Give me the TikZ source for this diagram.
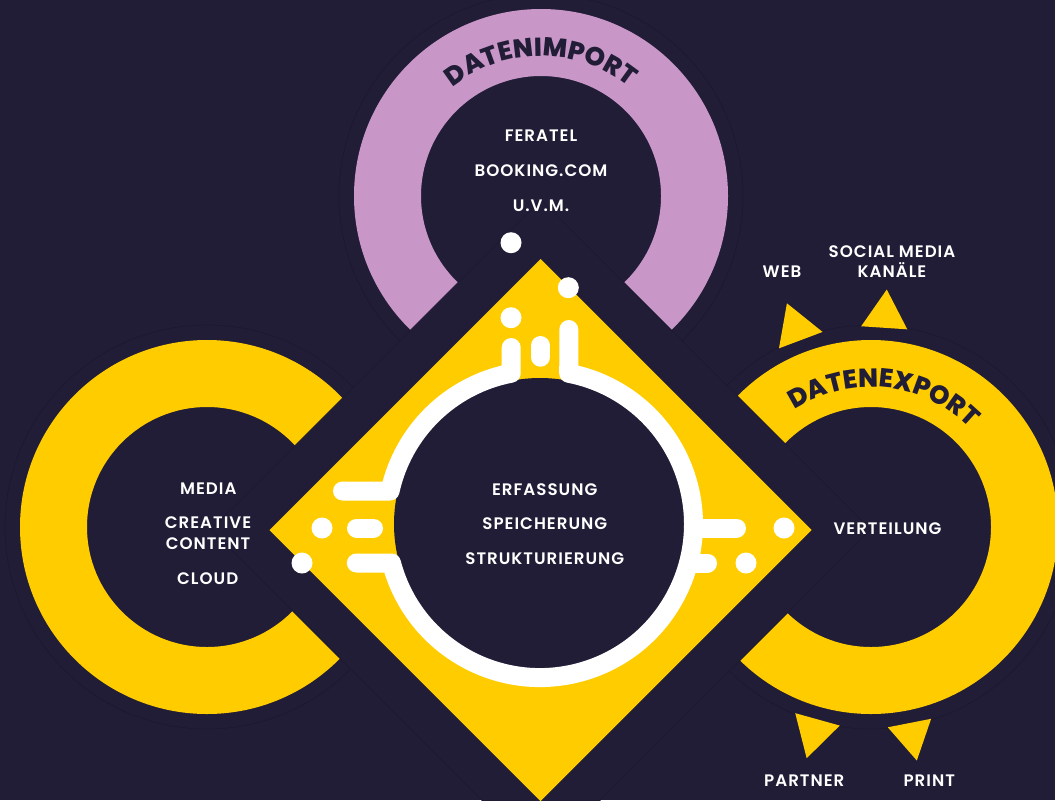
\documentclass[tikz,border=0pt]{standalone}
\usepackage{fontspec}
\setmainfont{Poppins}[BoldFont={* SemiBold}, LetterSpace=6]
\newfontfamily\heavyfont{Poppins}[UprightFont={* ExtraBold}, LetterSpace=2]
\usetikzlibrary{decorations.text}
\definecolor{bg}{HTML}{221D37}
\definecolor{faint}{HTML}{1C1830}
\definecolor{ylw}{HTML}{FFCC00}
\definecolor{lila}{HTML}{C996C8}
\tikzset{
  lbl/.style={text=white, font=\bfseries\fontsize{12.5}{15.4}\selectfont, align=center, inner sep=0pt},
  wline/.style={draw=white, line width=14.25pt, line cap=round, line join=round},
  wdot/.style={fill=white},
  halo/.style={fill=bg, draw=faint, line width=0.5pt},
  tri/.style={fill=ylw},
  arctext/.style={decorate, decoration={text along path, text align=center,
     text={|\heavyfont\fontsize{19.5}{21}\selectfont\color{bg}|#1}}}
}
\begin{document}
\begin{tikzpicture}[x=0.75pt,y=-0.75pt]
\fill[bg] (0,0) rectangle (1055,800);
\useasboundingbox (0,0) rectangle (1055,800);
% halos
\filldraw[halo] (541,196) circle[radius=202];
\filldraw[halo] (207,527) circle[radius=202];
\filldraw[halo] (871,527) circle[radius=202];
% C rings
\fill[lila, even odd rule] (541,196) circle[radius=187] (541,196) circle[radius=120];
\fill[ylw, even odd rule] (207,527) circle[radius=187] (207,527) circle[radius=120];
\fill[ylw, even odd rule] (871,527) circle[radius=187] (871,527) circle[radius=120];
% dark diamond and yellow diamond
\filldraw[halo] (541,199.5) -- (871,529.5) -- (541,859.5) -- (211,529.5) -- cycle;
\fill[ylw] (540.5,259) -- (811.5,530) -- (540.5,801) -- (269.5,530) -- cycle;
% dark inner disc
\fill[bg] (540,524) circle[radius=146];
% white ring pieces
\draw[wline] (511.2,347.5) -- (511.2,373.2) arc[start angle=259.2, end angle=192.4, radius=153.5] -- (342.5,491);
\draw[wline] (356.3,563) -- (391.5,563) arc[start angle=165.3, end angle=-79.2, radius=153.5] -- (568.8,329.5);
\draw[wline] (695,528) -- (736.5,528);
\draw[wline] (690,563) -- (707.5,563);
\draw[wline] (540.5,345.5) -- (540.5,357.2);
\draw[wline] (356.5,528) -- (373.5,528);
% dots
\foreach \p in {(322,528),(302,563),(784,528),(746,563),(568.3,287.7),(511,317.7),(511,242.7)}
  \fill[wdot] \p circle[radius=10.5];
% arc texts
\path[arctext=DATENIMPORT] (541,196) ++(190:140) arc[start angle=190, end angle=350, radius=140];
\path[arctext=DATENEXPORT] (871,527) ++(196:140) arc[start angle=196, end angle=356, radius=140];
% triangles
\fill[tri, shift={(871,527)}] (242.75:201) -- (249.4:239) -- (256.05:201) -- cycle;
\fill[tri, shift={(871,527)}] (267.2:201) -- (273.8:238) -- (280.4:201) -- cycle;
\fill[tri, shift={(871,527)}] (98.95:201) -- (105.55:240) -- (112.15:201) -- cycle;
\fill[tri, shift={(871,527)}] (72.6:201) -- (78.9:238) -- (85.2:201) -- cycle;
% labels
\node[lbl] (feratel) at (541,136) {FERATEL};
\node[lbl] (booking) at (541,171) {BOOKING.COM};
\node[lbl] (uvm) at (541,206) {U.V.M.};
\node[lbl] (media) at (208.3,489) {MEDIA};
\node[lbl, anchor=south] (creative) at (208,549.9) {CREATIVE\\CONTENT};
\node[lbl] (cloud) at (207.7,579) {CLOUD};
\node[lbl] (erf) at (544.7,489.3) {ERFASSUNG};
\node[lbl] (spei) at (544.8,523.7) {SPEICHERUNG};
\node[lbl] (strukt) at (544.8,558.8) {STRUKTURIERUNG};
\node[lbl] (vert) at (887.5,529) {VERTEILUNG};
\node[lbl] (web) at (782,272) {WEB};
\node[lbl, anchor=south] (social) at (892,277.8) {SOCIAL MEDIA\\KANÄLE};
\node[lbl] (partner) at (804.3,780.8) {PARTNER};
\node[lbl] (print) at (929.2,780.8) {PRINT};
\end{tikzpicture}
\end{document}
